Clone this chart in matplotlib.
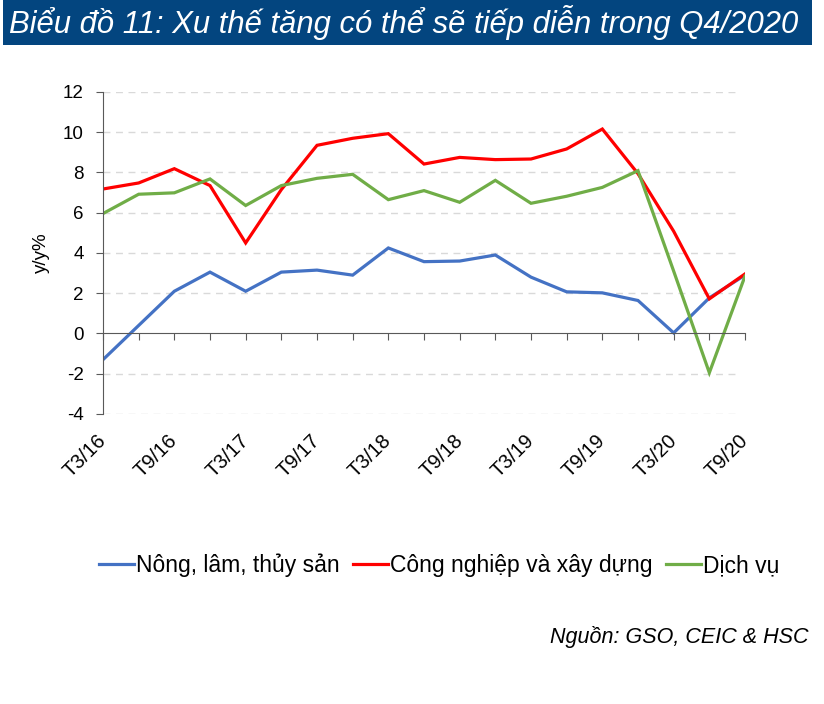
# Biểu đồ 11: tăng trưởng GDP theo khu vực (y/y%), T3/16 - T9/20
import matplotlib.pyplot as plt
from matplotlib.patches import Rectangle

plt.rcParams['font.family'] = ['Liberation Sans', 'DejaVu Sans']
plt.rcParams['axes.unicode_minus'] = False

quarters = ['T3/16', 'T6/16', 'T9/16', 'T12/16',
            'T3/17', 'T6/17', 'T9/17', 'T12/17',
            'T3/18', 'T6/18', 'T9/18', 'T12/18',
            'T3/19', 'T6/19', 'T9/19', 'T12/19',
            'T3/20', 'T6/20', 'T9/20']

nong_lam = [-1.3, 0.4, 2.1, 3.05, 2.1, 3.05, 3.15, 2.9, 4.25, 3.57,
            3.6, 3.9, 2.8, 2.07, 2.02, 1.64, 0.03, 1.77, 2.9]
cong_nghiep = [7.18, 7.48, 8.19, 7.35, 4.5, 7.15, 9.35, 9.7, 9.93, 8.42,
               8.75, 8.64, 8.67, 9.17, 10.16, 7.94, 5.08, 1.72, 2.96]
dich_vu = [5.96, 6.92, 6.99, 7.68, 6.36, 7.35, 7.71, 7.91, 6.65, 7.1,
           6.52, 7.61, 6.47, 6.82, 7.26, 8.09, 3.1, -1.95, 2.85]

series_names = ['Nông, lâm, thủy sản', 'Công nghiệp và xây dựng', 'Dịch vụ']
colors = ['#4472C4', '#FF0000', '#70AD47']

fig = plt.figure(figsize=(8.24, 7.04), dpi=100)

# title banner
fig.patches.append(Rectangle((0.004, 0.936), 0.982, 0.064, transform=fig.transFigure,
                             facecolor='#03457F', edgecolor='none'))
fig.text(0.011, 0.968, 'Biểu đồ 11: Xu thế tăng có thể sẽ tiếp diễn trong Q4/2020',
         color='white', fontsize=22.3, style='italic', va='center', ha='left')

ax = fig.add_axes([103 / 824, 1 - 414 / 704, (745 - 103) / 824, (414 - 92) / 704])

x = list(range(len(quarters)))
for vals, name, c in zip([nong_lam, cong_nghiep, dich_vu], series_names, colors):
    ax.plot(x, vals, color=c, linewidth=2.3, label=name, solid_joinstyle='miter')

ax.set_xlim(0, len(quarters) - 1)
ax.set_ylim(-4, 12)
ax.set_yticks(range(-4, 13, 2))
for yv in range(-4, 13, 2):
    if yv != 0:
        ax.axhline(yv, xmin=0, xmax=0.99, color='#D9D9D9', linewidth=1,
                   linestyle=(0, (5, 4)), zorder=0)

for s in ['top', 'right']:
    ax.spines[s].set_visible(False)
ax.spines['bottom'].set_position(('data', 0))
ax.spines['left'].set_color('#595959')
ax.spines['bottom'].set_color('#595959')

ax.set_xticks(x)
ax.set_xticklabels([])
ax.tick_params(axis='x', direction='out', length=5, color='#595959')
ax.tick_params(axis='y', direction='out', length=5, color='#595959',
               labelsize=13.5, pad=9)

sec = ax.secondary_xaxis(0.0)
sec.spines['bottom'].set_visible(False)
sec.set_xticks(x[::2])
sec.set_xticklabels(quarters[::2], rotation=45, ha='right', va='center',
                    rotation_mode='anchor', fontsize=14.5)
sec.tick_params(axis='x', length=0, pad=17)

ax.set_ylabel('y/y%', fontsize=13.5, labelpad=9)

fig.legend(loc='center', bbox_to_anchor=(0.533, 0.197), ncol=3, frameon=False,
           fontsize=16.5, handlelength=1.5, handletextpad=0.1, columnspacing=0.6)

fig.text(0.981, 0.095, 'Nguồn: GSO, CEIC & HSC', fontsize=15.5, style='italic',
         ha='right', va='center')

fig.savefig('out.png', dpi=100)
